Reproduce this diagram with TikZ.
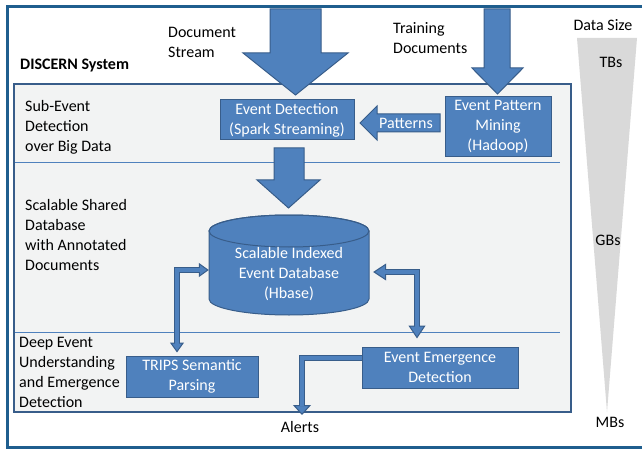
\documentclass[tikz,border=0pt]{standalone}
\usepackage{fontspec}
\setmainfont{Carlito}
\usetikzlibrary{calc,arrows.meta}

\definecolor{boxblue}{HTML}{4F81BD}
\definecolor{boxedge}{HTML}{385D8A}
\definecolor{frameblue}{HTML}{1F5E8E}
\definecolor{panelgray}{HTML}{F2F3F3}
\definecolor{funnelgray}{HTML}{D9D9D9}

\tikzset{
  txt/.style={inner sep=0pt, align=left, anchor=west, text=black},
  lbl/.style={inner sep=0pt, align=center, text=black},
  procbox/.style={draw=boxedge, fill=boxblue, line width=1pt, text=white,
    align=center, inner sep=0pt},
  blockarrow/.style={draw=boxedge, fill=boxblue, line width=1pt, line join=miter},
  linkouter/.style={draw=boxedge, line width=6pt, line join=miter},
  linkinner/.style={draw=boxblue, line width=4pt, line join=miter,
    shorten <=9pt, shorten >=9pt},
  tipS/.tip={Triangle[length=10pt, width=14pt, line width=1pt, fill=boxblue, color=boxedge]},
  tipL/.tip={Triangle[length=13pt, width=17pt, line width=1pt, fill=boxblue, color=boxedge]},
  tipA/.tip={Triangle[length=10pt, width=18pt, line width=1pt, fill=boxblue, color=boxedge]},
}

\begin{document}
\begin{tikzpicture}[x=1pt, y=-1pt, font=\fontsize{16}{20}\selectfont]
\useasboundingbox (0,0) rectangle (642,449);
\fill[white] (0,0) rectangle (642,449);

% outer frame of the system
\draw[frameblue, line width=3pt] (660,6.5) -- (7,6.5) -- (7,447) -- (660,447);

% data size funnel
\fill[funnelgray] (577,38) -- (637,38) -- (607,412) -- cycle;
\node[lbl] (datasize) at (603,25) {Data Size};
\node[lbl] (tbs) at (611,62) {TBs};
\node[lbl] (gbs) at (608,240) {GBs};
\node[lbl] (mbs) at (610,422) {MBs};

% system panel and its three layers
\filldraw[fill=panelgray, draw=boxedge, line width=2pt] (13.5,84) rectangle (570.5,412);
\draw[boxblue, line width=0.8pt] (14.5,162) -- (560,162);
\draw[boxblue, line width=0.8pt] (14.5,332) -- (560,332);

\node[txt, font=\fontsize{16}{20}\selectfont\bfseries] (title) at (20,66) {DISCERN System};
\node[txt] (docstream) at (168,42) {Document\\Stream};
\node[txt] (training) at (393,38.5) {Training\\Documents};

\node[txt] (layer1) at (25,127) {Sub-Event\\Detection\\over Big Data};
\node[txt] (layer2) at (25,235.5) {Scalable Shared\\Database\\with Annotated\\Documents};
\node[txt] (layer3) at (19,372) {Deep Event\\Understanding\\and Emergence\\Detection};

% processing components
\node[procbox, minimum width=134pt, minimum height=40pt] (ed) at (287,120)
  {Event Detection\\(Spark Streaming)};
\node[procbox, minimum width=106pt, minimum height=60pt] (epm) at (498,127)
  {Event Pattern\\Mining\\(Hadoop)};
\node[procbox, minimum width=132pt, minimum height=41pt] (trips) at (192,376.5)
  {TRIPS Semantic\\Parsing};
\node[procbox, minimum width=156pt, minimum height=41pt] (eed) at (440,367.5)
  {Event Emergence\\Detection};

% event database cylinder
\filldraw[blockarrow] (209,231) -- (209,299)
  arc[start angle=180, end angle=0, x radius=80, y radius=16]
  -- (369,231)
  arc[start angle=0, end angle=-180, x radius=80, y radius=16] -- cycle;
\draw[boxedge, line width=1pt] (289,231) ellipse[x radius=80, y radius=16];
\node[inner sep=0pt, minimum width=160pt, minimum height=100pt] (db) at (289,265) {};
\node[lbl, text=white] (dbtext) at (289,274)
  {Scalable Indexed\\Event Database\\(Hbase)};

% big input arrows
\filldraw[blockarrow] (270,9) -- (321,9) -- (321,53) -- (348,53) -- (295.5,95)
  -- (243,53) -- (270,53) -- cycle;
\filldraw[blockarrow] (484,9) -- (510,9) -- (510,68) -- (523,68) -- (497.5,94)
  -- (472,68) -- (484,68) -- cycle;
\filldraw[blockarrow] (274,148) -- (304,148) -- (304,180) -- (320,180) -- (288.5,208)
  -- (257,180) -- (274,180) -- cycle;

% patterns arrow from mining to detection
\filldraw[blockarrow] (440,114) -- (377,114) -- (377,106) -- (360,123)
  -- (377,140) -- (377,132) -- (440,132) -- cycle;
\node[lbl, text=white] (patterns) at (406,123) {Patterns};

% links between the database and the analysis components
\coordinate (dbL) at ($(db.west)+(0,5)$);
\coordinate (tripsIn) at ($(trips.north)+(-15,-3)$);
\draw[linkouter, tipS-tipS] (dbL) -| (tripsIn);
\draw[linkinner] (dbL) -| (tripsIn);

\coordinate (dbR) at ($(db.east)+(4,7)$);
\coordinate (eedIn) at ($(eed.north)+(-23,-8)$);
\draw[linkouter, tipL-tipL] (dbR) -| (eedIn);
\draw[linkinner, shorten <=12pt, shorten >=12pt] (dbR) -| (eedIn);

% alerts output
\node[lbl] (alerts) at (300,427) {Alerts};
\coordinate (eedOut) at ($(eed.west)+(0,-10)$);
\coordinate (alertTip) at (302,415);
\draw[linkouter, -tipA] (eedOut) -| (alertTip);
\draw[linkinner, shorten <=0pt] (eedOut) -| (alertTip);
\end{tikzpicture}
\end{document}
